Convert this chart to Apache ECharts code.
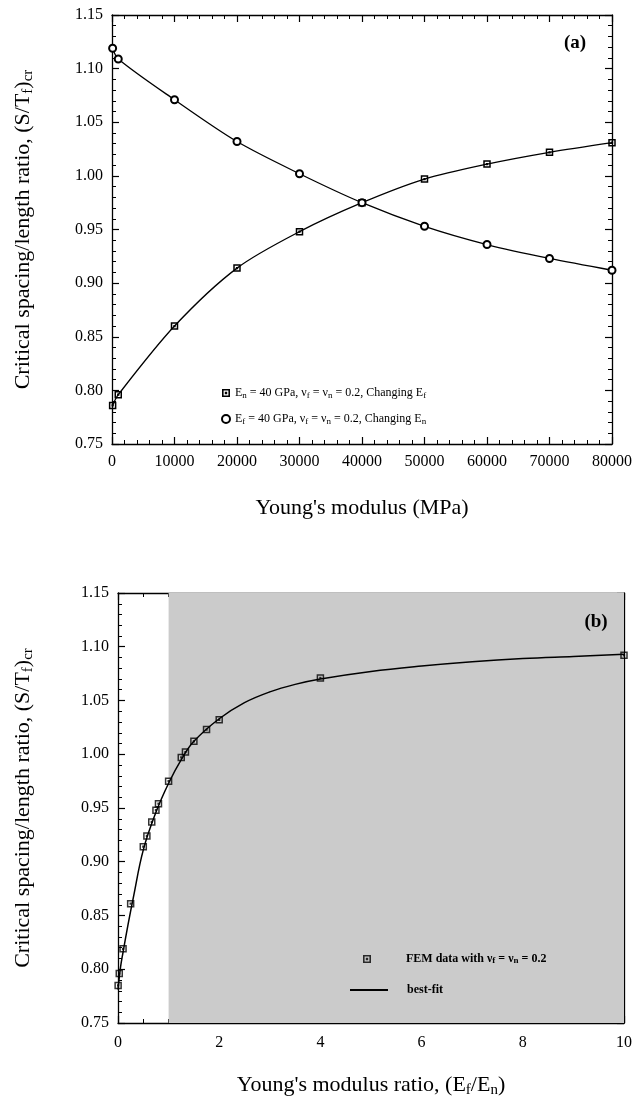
<!DOCTYPE html>
<html><head><meta charset="utf-8">
<script src="https://cdn.jsdelivr.net/npm/echarts@6/dist/echarts.min.js"></script>
<style>html,body{margin:0;padding:0;background:#fff}#c{width:635px;height:1104px}</style>
</head><body><div id="c"></div>
<script>
// ---- Panel (a): Young's modulus (MPa) ----
const aXTicks = [0, 10000, 20000, 30000, 40000, 50000, 60000, 70000, 80000];
const aChangingEfX = [100, 1000, 10000, 20000, 30000, 40000, 50000, 60000, 70000, 80000];
const aChangingEfY = [0.786, 0.796, 0.860, 0.914, 0.948, 0.975, 0.997, 1.011, 1.022, 1.031];
const aChangingEnX = [100, 1000, 10000, 20000, 30000, 40000, 50000, 60000, 70000, 80000];
const aChangingEnY = [1.119, 1.109, 1.071, 1.032, 1.002, 0.975, 0.953, 0.936, 0.923, 0.912];

// ---- Panel (b): Young's modulus ratio Ef/En ----
const bFemX = [0.0025, 0.025, 0.1, 0.25, 0.5, 0.571, 0.667, 0.75, 0.8, 1.0, 1.25, 1.333, 1.5, 1.75, 2.0, 4.0, 10.0];
const bFemY = [0.785, 0.796, 0.819, 0.861, 0.914, 0.924, 0.937, 0.948, 0.954, 0.975, 0.997, 1.002, 1.012, 1.023, 1.032, 1.071, 1.092];
const bFitX = [0, 0.05, 0.1, 0.2, 0.3, 0.5, 0.75, 1, 1.25, 1.5, 2, 2.5, 3, 3.5, 4, 5, 6, 7, 8, 9, 10];
const bFitY = [0.781, 0.802, 0.816, 0.842, 0.866, 0.911, 0.946, 0.973, 0.995, 1.012, 1.033, 1.048, 1.058, 1.065, 1.070, 1.077, 1.082, 1.086, 1.089, 1.091, 1.093];
const bShadeFrom = 1, bShadeTo = 10;

const yMin = 0.75, yMax = 1.15, yStep = 0.05;

const zip = (xs, ys) => xs.map((x, i) => [x, ys[i]]);
const FONT = '"Liberation Serif", "Times New Roman", serif';
const sqSym = 'path://M0,0H10V10H0Z M2,2V8H8V2Z M3.5,3.5H6.5V6.5H3.5Z';
const LBL = { color: '#000', fontFamily: FONT, fontSize: 16 };

function axisBase(extra) {
  return Object.assign({
    type: 'value',
    axisLine: { show: true, onZero: false, lineStyle: { color: '#000', width: 1.3 } },
    axisTick: { show: true, inside: true, length: 7, lineStyle: { color: '#000', width: 1.2 } },
    minorTick: { show: true, splitNumber: 5, length: 4, lineStyle: { color: '#000', width: 1 } },
    splitLine: { show: false },
    minorSplitLine: { show: false },
    axisLabel: Object.assign({ margin: 9 }, LBL),
    nameTextStyle: { color: '#000', fontFamily: FONT, fontSize: 22 }
  }, extra);
}
const richSub = {
  s: { fontFamily: FONT, fontSize: 15, lineHeight: 12, verticalAlign: 'bottom', color: '#000' }
};
const titleStyle = { color: '#000', fontFamily: FONT, fontSize: 22, lineHeight: 25, rich: richSub };

const option = {
  animation: false,
  backgroundColor: '#fff',
  grid: [
    { left: 112, top: 15, width: 501, height: 429 },
    { left: 118, top: 593, width: 506, height: 430 }
  ],
  xAxis: [
    axisBase({ gridIndex: 0, min: aXTicks[0], max: aXTicks[aXTicks.length - 1], interval: 10000,
      name: "Young's modulus (MPa)", nameLocation: 'middle', nameGap: 52, nameTextStyle: titleStyle,
      axisLabel: Object.assign({ margin: 10, formatter: v => String(v) }, LBL) }),
    axisBase({ gridIndex: 0, position: 'top', min: aXTicks[0], max: aXTicks[aXTicks.length - 1], interval: 10000,
      axisLabel: { show: false } }),
    axisBase({ gridIndex: 1, min: 0, max: 10, interval: 2,
      minorTick: { show: true, splitNumber: 4, length: 4, lineStyle: { color: '#000', width: 1 } },
      name: "Young's modulus ratio, (E{s|f}/E{s|n})", nameLocation: 'middle', nameGap: 50,
      nameTextStyle: titleStyle,
      axisLabel: Object.assign({ margin: 12 }, LBL) }),
    axisBase({ gridIndex: 1, position: 'top', min: 0, max: 10, interval: 2,
      minorTick: { show: true, splitNumber: 4, length: 4, lineStyle: { color: '#000', width: 1 } },
      axisLabel: { show: false } })
  ],
  yAxis: [
    axisBase({ gridIndex: 0, min: yMin, max: yMax, interval: yStep,
      axisLabel: Object.assign({ margin: 9, formatter: v => v.toFixed(2) }, LBL),
      name: 'Critical spacing/length ratio, (S/T{s|f}){s|cr}', nameLocation: 'middle', nameGap: 76,
      nameTextStyle: titleStyle }),
    axisBase({ gridIndex: 0, position: 'right', min: yMin, max: yMax, interval: yStep, axisLabel: { show: false } }),
    axisBase({ gridIndex: 1, min: yMin, max: yMax, interval: yStep,
      axisLabel: Object.assign({ margin: 9, formatter: v => v.toFixed(2) }, LBL),
      name: 'Critical spacing/length ratio, (S/T{s|f}){s|cr}', nameLocation: 'middle', nameGap: 82,
      nameTextStyle: titleStyle }),
    axisBase({ gridIndex: 1, position: 'right', min: yMin, max: yMax, interval: yStep, axisLabel: { show: false } })
  ],
  legend: [
    {
      orient: 'vertical', left: 216, top: 381, itemGap: 12, itemWidth: 8, itemHeight: 8,
      textStyle: { color: '#000', fontFamily: FONT, fontSize: 12, lineHeight: 14,
        rich: { s: { fontFamily: FONT, fontSize: 9, lineHeight: 8, verticalAlign: 'bottom', color: '#000' } } },
      formatter: n => n === 'ChangingEf'
        ? 'E{s|n} = 40 GPa, ν{s|f} = ν{s|n} = 0.2, Changing E{s|f}'
        : 'E{s|f} = 40 GPa, ν{s|f} = ν{s|n} = 0.2, Changing E{s|n}',
      data: [
        { name: 'ChangingEf', icon: sqSym, itemStyle: { color: '#000' } },
        { name: 'ChangingEn', icon: 'emptyCircle', itemStyle: { color: '#000', borderColor: '#000', borderWidth: 1.1 } }
      ]
    },
    {
      left: 358, top: 948, itemWidth: 8, itemHeight: 8,
      textStyle: { color: '#000', fontFamily: FONT, fontSize: 12, fontWeight: 'bold', padding: [0, 0, 0, 30],
        rich: { s: { fontFamily: FONT, fontSize: 9, fontWeight: 'bold', lineHeight: 8, verticalAlign: 'bottom', color: '#000' } } },
      formatter: () => 'FEM data with ν{s|f} = ν{s|n} = 0.2',
      data: [{ name: 'FEM', icon: sqSym, itemStyle: { color: '#000' } }]
    },
    {
      left: 345, top: 979, itemWidth: 38, itemHeight: 2,
      textStyle: { color: '#000', fontFamily: FONT, fontSize: 12, fontWeight: 'bold', padding: [0, 0, 0, 14] },
      data: [{ name: 'best-fit', icon: 'rect', itemStyle: { color: '#000' } }]
    }
  ],
  graphic: [
    { type: 'text', x: 575, y: 43, style: { text: '(a)', font: 'bold 19px ' + FONT, fill: '#000', textAlign: 'center', textVerticalAlign: 'middle' } },
    { type: 'text', x: 596, y: 622, z: 10, style: { text: '(b)', font: 'bold 19px ' + FONT, fill: '#000', textAlign: 'center', textVerticalAlign: 'middle' } }
  ],
  series: [
    {
      name: 'ChangingEf', type: 'line', xAxisIndex: 0, yAxisIndex: 0,
      data: zip(aChangingEfX, aChangingEfY), smooth: 0.3,
      symbol: sqSym, symbolSize: 7.5, showAllSymbol: true,
      lineStyle: { color: '#000', width: 1.3 }, itemStyle: { color: '#000' }
    },
    {
      name: 'ChangingEn', type: 'line', xAxisIndex: 0, yAxisIndex: 0,
      data: zip(aChangingEnX, aChangingEnY), smooth: 0.3,
      symbol: 'emptyCircle', symbolSize: 7, showAllSymbol: true,
      lineStyle: { color: '#000', width: 1.3 }, itemStyle: { color: '#000', borderColor: '#000', borderWidth: 1.1 }
    },
    {
      name: 'shade', type: 'line', xAxisIndex: 2, yAxisIndex: 2, data: [], z: 0,
      markArea: { silent: true, itemStyle: { color: '#cbcbcb' },
        data: [[{ xAxis: bShadeFrom }, { xAxis: bShadeTo }]] }
    },
    {
      name: 'best-fit', type: 'line', xAxisIndex: 2, yAxisIndex: 2, z: 3,
      data: zip(bFitX, bFitY), smooth: 0.4, showSymbol: false,
      lineStyle: { color: '#000', width: 1.5 }, itemStyle: { color: '#000' }
    },
    {
      name: 'FEM', type: 'scatter', xAxisIndex: 2, yAxisIndex: 2, z: 4,
      data: zip(bFemX, bFemY), symbol: sqSym, symbolSize: 7.5,
      itemStyle: { color: '#000' }
    }
  ]
};
const chart = echarts.init(document.getElementById('c'), null, { renderer: 'canvas' });
chart.setOption(option);
</script>
</body></html>
